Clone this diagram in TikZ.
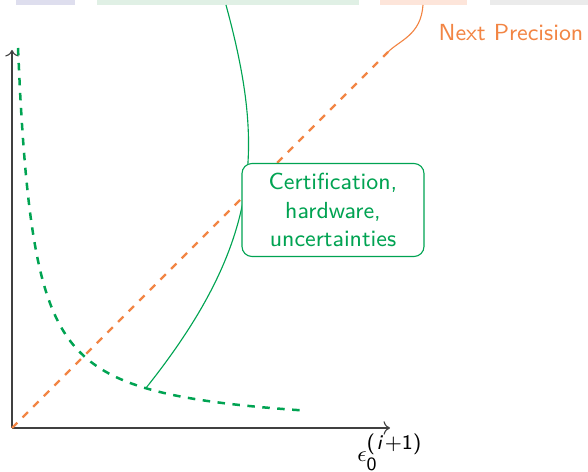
\documentclass[tikz,border=0pt]{standalone}
\usepackage{amsmath,amssymb}
\usepackage{tikz}
\usetikzlibrary{arrows.meta}

\definecolor{certgreen}{RGB}{0,163,82}
\definecolor{precorange}{RGB}{242,133,68}
\definecolor{barlav}{RGB}{222,222,238}
\definecolor{bargreen}{RGB}{224,240,229}
\definecolor{barorange}{RGB}{253,229,218}
\definecolor{bargray}{RGB}{235,235,235}

\tikzset{
  topbar/.style={inner sep=0pt, minimum height=2pt, anchor=north west},
  axisline/.style={->, >=To, black!75, line width=0.45pt},
  notebox/.style={draw=certgreen, fill=white, rounded corners=4pt, line width=0.45pt,
    text=certgreen, align=center, minimum width=72.8pt, minimum height=37.2pt, inner sep=2pt}
}

\begin{document}
\begin{tikzpicture}[x=0.4pt, y=0.4pt, font=\sffamily\fontsize{9.3}{11.4}\selectfont]
  \useasboundingbox (-12,-44) rectangle (576,428);

  % Header bars (cut off)
  \node[topbar, fill=barlav, minimum width=23.2pt] (barA) at (4,428) {};
  \node[topbar, fill=bargreen, minimum width=104.8pt] (barB) at (84,428) {};
  \node[topbar, fill=barorange, minimum width=34.8pt] (barC) at (367,428) {};
  \node[topbar, fill=bargray, minimum width=39.6pt] (barD) at (477,428) {};

  % Axes
  \coordinate (O) at (0,0);
  \coordinate (xEnd) at (378,0);
  \coordinate (yEnd) at (0,378);
  \draw[axisline] (O) -- (xEnd);
  \draw[axisline] (O) -- (yEnd);
  \node[anchor=north, inner sep=0pt, yshift=-2pt] (xLabel) at (xEnd)
    {$\epsilon_{\mbox{\fontsize{7.5}{8}\selectfont 0}}^{\mbox{\fontsize{8.3}{9}\selectfont(\kern0.6pt\textit{i}\kern0.6pt+1)}}$};

  % Decreasing curve
  \draw[certgreen, dashed, line width=1pt]
    plot[domain=6:293, samples=120, smooth] (\x, {6125/(\x+10) - 2.8});

  % Increasing line
  \coordinate (precEnd) at (376,376);
  \draw[precorange, dashed, line width=0.9pt] (O) -- (precEnd);

  % Callout to the dashed curve
  \coordinate (greenTop) at (214,423);
  \coordinate (greenHit) at (134,40);
  \draw[certgreen, line width=0.45pt] (greenTop) .. controls (252,283) and (252,188) .. (greenHit);
  \node[notebox] (certBox) at (321,218) {Certification,\\hardware,\\uncertainties};

  % Callout to the line
  \coordinate (orangeTop) at (411,423);
  \draw[precorange, line width=0.45pt] (orangeTop) .. controls (409,393) and (388,388) .. (precEnd);
  \node[text=precorange] (precLabel) at (499,395) {Next Precision};
\end{tikzpicture}
\end{document}
